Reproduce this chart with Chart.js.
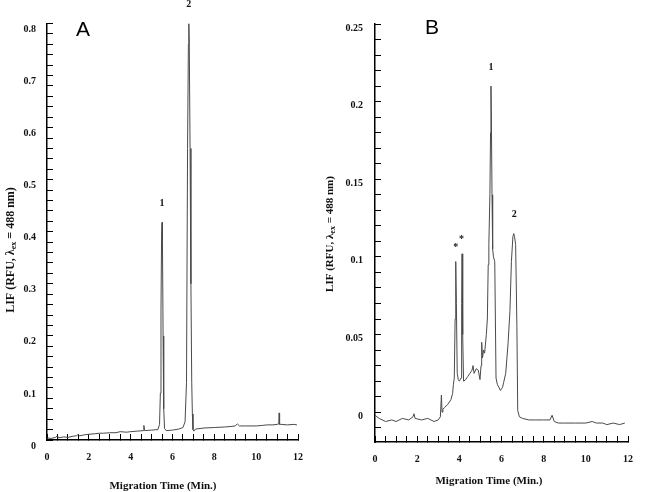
<!DOCTYPE html>
<html>
<head>
<meta charset="utf-8">
<script src="https://cdn.jsdelivr.net/npm/chart.js@4.4.1/dist/chart.umd.min.js"></script>
<style>
  html, body { margin: 0; padding: 0; background: #fff; }
  #wrap { position: relative; width: 650px; height: 492px; overflow: hidden; }
  .panel { position: absolute; top: 0; height: 492px; }
  #panelA { left: 0; width: 320px; }
  #panelB { left: 320px; width: 330px; }
</style>
</head>
<body>
<div id="wrap">
  <div class="panel" id="panelA"><canvas id="chartA"></canvas></div>
  <div class="panel" id="panelB"><canvas id="chartB"></canvas></div>
</div>
<script>
// Panel A electropherogram (time in min, LIF signal in RFU)
const timesA = [
  0, 0.2, 0.4, 0.5, 0.55, 0.8, 1.0, 1.2, 1.4, 1.5, 1.55, 1.8, 2.0, 2.3, 2.5, 2.7,
  3.0, 3.3, 3.5, 3.8, 4.0, 4.3, 4.6, 4.63, 4.67, 5.0, 5.3, 5.38, 5.42, 5.45, 5.48,
  5.5, 5.52, 5.55, 5.58, 5.62, 5.7, 6.0, 6.3, 6.5, 6.6, 6.67, 6.72, 6.76, 6.78,
  6.8, 6.84, 6.88, 6.92, 6.95, 6.98, 7.02, 7.1, 7.5, 8.0, 8.5, 8.8, 9.0, 9.1, 9.2,
  9.5, 10.0, 10.3, 10.5, 10.8, 11.0, 11.08, 11.1, 11.12, 11.2, 11.5, 11.8, 11.95
];
const signalA = [
  0.004, 0.003, 0.005, 0.008, 0.004, 0.006, 0.005, 0.007, 0.008, 0.011, 0.008, 0.010, 0.011, 0.012, 0.013, 0.013,
  0.014, 0.014, 0.016, 0.015, 0.016, 0.017, 0.018, 0.028, 0.018, 0.019, 0.020, 0.030, 0.090, 0.250, 0.400,
  0.418, 0.380, 0.200, 0.060, 0.022, 0.018, 0.019, 0.021, 0.024, 0.035, 0.110, 0.560, 0.760, 0.800,
  0.770, 0.560, 0.300, 0.110, 0.050, 0.020, 0.017, 0.021, 0.023, 0.024, 0.025, 0.026, 0.027, 0.031, 0.027,
  0.027, 0.027, 0.028, 0.029, 0.029, 0.030, 0.031, 0.052, 0.030, 0.030, 0.029, 0.030, 0.029
];

// Panel B electropherogram
const timesB = [
  0, 0.2, 0.5, 0.8, 1.0, 1.3, 1.6, 1.8, 1.85, 1.9, 2.2, 2.5, 2.8, 3.0, 3.1, 3.15, 3.18,
  3.22, 3.3, 3.45, 3.6, 3.68, 3.72, 3.76, 3.8, 3.83, 3.86, 3.9, 3.95, 4.0, 4.08, 4.11,
  4.13, 4.16, 4.2, 4.3, 4.4, 4.5, 4.6, 4.65, 4.7, 4.8, 4.9, 4.98, 5.03, 5.06, 5.1, 5.15,
  5.2, 5.28, 5.33, 5.37, 5.4, 5.45, 5.48, 5.5, 5.52, 5.55, 5.58, 5.62, 5.68, 5.71, 5.74,
  5.8, 5.95, 6.05, 6.1, 6.2, 6.31, 6.4, 6.47, 6.54, 6.58, 6.62, 6.67, 6.73, 6.77, 6.85,
  7.0, 7.3, 7.6, 8.0, 8.3, 8.4, 8.5, 8.7, 9.0, 9.5, 10.0, 10.3, 10.5, 10.8, 11.0, 11.3, 11.6, 11.85
];
const signalB = [
  -0.002, -0.004, -0.006, -0.005, -0.006, -0.004, -0.005, -0.003, -0.001, -0.004, -0.005, -0.004, -0.006, -0.005, -0.003, 0.011, 0.000,
  0.002, 0.003, 0.005, 0.008, 0.012, 0.018, 0.022, 0.060, 0.097, 0.070, 0.025, 0.021, 0.020, 0.022, 0.070,
  0.102, 0.050, 0.020, 0.021, 0.023, 0.025, 0.027, 0.030, 0.025, 0.028, 0.027, 0.021, 0.030, 0.045, 0.035, 0.040,
  0.038, 0.050, 0.060, 0.095, 0.108, 0.140, 0.180, 0.210, 0.190, 0.140, 0.105, 0.100, 0.097, 0.060, 0.022,
  0.018, 0.014, 0.016, 0.019, 0.025, 0.044, 0.065, 0.097, 0.113, 0.115, 0.113, 0.108, 0.055, 0.001, -0.003,
  -0.004, -0.005, -0.005, -0.005, -0.005, -0.002, -0.006, -0.007, -0.007, -0.007, -0.007, -0.006, -0.007, -0.007, -0.008, -0.007, -0.008, -0.007
];

// tick labels
const xTickLabels = [0, 2, 4, 6, 8, 10, 12];
const yTickLabelsA = [0, 0.1, 0.2, 0.3, 0.4, 0.5, 0.6, 0.7, 0.8];
const yTickLabelsB = [0, 0.05, 0.1, 0.15, 0.2, 0.25];

// peak annotations
const peakNamesA = ["1", "2"];
const peakTimesA = [5.5, 6.78];
const peakHeightsA = [0.418, 0.8];
const peakNamesB = ["*", "*", "1", "2"];
const peakTimesB = [3.83, 4.1, 5.5, 6.6];
const peakHeightsB = [0.097, 0.102, 0.21, 0.115];

const xTitle = "Migration Time (Min.)";
const yTitleParts = ["LIF (RFU, \u03bb", "ex", " = 488 nm)"];

const SERIF = '"Liberation Serif", "Times New Roman", serif';

function stepTicks(from, to, step) {
  const out = [];
  for (let v = from; v <= to + 1e-9; v += step) out.push({ value: +v.toFixed(4) });
  return out;
}

function labelFrom(list) {
  return value => {
    const hit = list.find(t => Math.abs(t - value) < 1e-6);
    return hit === undefined ? "" : String(hit);
  };
}

function decorPlugin(o) {
  return {
    id: "decor" + o.letter,
    afterDraw(chart) {
      const { ctx, scales: { x, y } } = chart;
      ctx.save();
      ctx.fillStyle = "#111";

      // x axis title
      ctx.font = "bold 11px " + SERIF;
      ctx.textAlign = "center";
      ctx.textBaseline = "middle";
      ctx.fillText(xTitle, o.xTitle[0], o.xTitle[1]);

      // y axis title with subscript
      ctx.save();
      ctx.translate(o.yTitle[0], o.yTitle[1]);
      ctx.rotate(-Math.PI / 2);
      const big = "bold " + o.yFont + "px " + SERIF;
      const small = "bold " + Math.round(o.yFont * 0.7) + "px " + SERIF;
      ctx.font = big;
      const w1 = ctx.measureText(yTitleParts[0]).width;
      const w3 = ctx.measureText(yTitleParts[2]).width;
      ctx.font = small;
      const w2 = ctx.measureText(yTitleParts[1]).width;
      let cx = -(w1 + w2 + w3) / 2;
      ctx.textAlign = "left";
      ctx.font = big;
      ctx.fillText(yTitleParts[0], cx, 0);
      cx += w1;
      ctx.font = small;
      ctx.fillText(yTitleParts[1], cx, 3);
      cx += w2;
      ctx.font = big;
      ctx.fillText(yTitleParts[2], cx, 0);
      ctx.restore();

      // panel letter
      ctx.font = '21px "Liberation Sans", Arial, sans-serif';
      ctx.textAlign = "center";
      ctx.fillStyle = "#000";
      ctx.fillText(o.letter, o.letterPos[0], o.letterPos[1]);

      // peak labels
      ctx.font = "bold 10px " + SERIF;
      ctx.fillStyle = "#111";
      o.names.forEach((n, i) => {
        const px = x.getPixelForValue(o.times[i]);
        const py = y.getPixelForValue(o.heights[i]) - (n === "*" ? 14 : 19);
        ctx.fillText(n, px, py);
      });
      ctx.restore();
    }
  };
}

function makeChart(id, times, signal, cfg) {
  const tickFont = { family: SERIF, size: 10, weight: "bold" };
  const axisGrid = { display: true, drawOnChartArea: false, drawTicks: true, tickLength: -6, color: "#000", lineWidth: 1 };
  const axisBorder = { display: true, color: "#000", width: 1.5 };
  return new Chart(document.getElementById(id), {
    type: "line",
    data: {
      datasets: [{
        data: times.map((t, i) => ({ x: t, y: signal[i] })),
        borderColor: "#4a4a4a",
        borderWidth: 1,
        pointRadius: 0,
        tension: 0,
        fill: false
      }]
    },
    options: {
      responsive: true,
      maintainAspectRatio: false,
      animation: false,
      events: [],
      layout: { padding: cfg.padding },
      plugins: { legend: { display: false }, tooltip: { enabled: false } },
      scales: {
        x: {
          type: "linear",
          min: 0,
          max: 12,
          afterBuildTicks: s => { s.ticks = stepTicks(0, 12, 0.5); },
          afterFit: s => { s.height = cfg.xAxisHeight; },
          ticks: { autoSkip: false, maxRotation: 0, padding: 17, color: "#111", font: tickFont, callback: labelFrom(xTickLabels) },
          grid: axisGrid,
          border: axisBorder
        },
        y: {
          type: "linear",
          min: cfg.yMin,
          max: cfg.yMax,
          afterBuildTicks: s => { s.ticks = stepTicks(cfg.yTickFrom, cfg.yMax, cfg.yStep); },
          afterFit: s => { s.width = cfg.yAxisWidth; },
          ticks: { autoSkip: false, padding: cfg.yPad, labelOffset: cfg.yLabelOffset, color: "#111", font: tickFont, callback: labelFrom(cfg.yLabels) },
          grid: axisGrid,
          border: axisBorder
        }
      }
    },
    plugins: [decorPlugin(cfg.decor)]
  });
}

makeChart("chartA", timesA, signalA, {
  padding: { left: 0, right: 17, top: 23.5, bottom: 0 },
  xAxisHeight: 52,
  yAxisWidth: 47,
  yMin: 0, yMax: 0.8, yTickFrom: 0, yStep: 0.02,
  yPad: 17, yLabelOffset: 6,
  yLabels: yTickLabelsA,
  decor: {
    letter: "A", letterPos: [83, 30],
    xTitle: [163, 486], yTitle: [11, 250], yFont: 12,
    names: peakNamesA, times: peakTimesA, heights: peakHeightsA
  }
});

makeChart("chartB", timesB, signalB, {
  padding: { left: 0, right: 5, top: 22, bottom: 0 },
  xAxisHeight: 50,
  yAxisWidth: 55,
  yMin: -0.0192, yMax: 0.25, yTickFrom: -0.01, yStep: 0.01,
  yPad: 18, yLabelOffset: 4,
  yLabels: yTickLabelsB,
  decor: {
    letter: "B", letterPos: [112, 28],
    xTitle: [169, 481], yTitle: [10, 234], yFont: 11,
    names: peakNamesB, times: peakTimesB, heights: peakHeightsB
  }
});
</script>
</body>
</html>
